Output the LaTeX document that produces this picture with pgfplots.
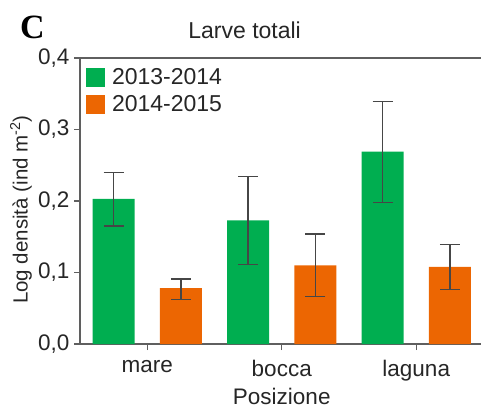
\documentclass[border=0pt]{standalone}
\usepackage{pgfplots}
\pgfplotsset{compat=1.18}
\usepackage{fontspec}
\setmainfont{Liberation Sans}
\newfontfamily\timesfont{Liberation Serif}
\definecolor{grn}{RGB}{0,174,80}
\definecolor{org}{RGB}{236,102,2}
\definecolor{axgray}{RGB}{95,95,95}
\definecolor{errgray}{RGB}{70,70,70}
\begin{document}
\begin{tikzpicture}
\useasboundingbox (0,0) rectangle (481pt,408pt);
\begin{axis}[
  at={(80pt,64pt)}, anchor=south west,
  scale only axis, width=403.5pt, height=286pt,
  ybar, bar width=42pt,
  xmin=-0.5, xmax=2.5, ymin=0, ymax=0.4,
  axis line style={axgray, line width=1.3pt},
  xtick={0,1,2}, xticklabels={mare,bocca,laguna},
  ytick={0,0.1,0.2,0.3,0.4},
  tick align=outside, tick pos=left,
  major tick length=6pt,
  tick style={axgray, line width=1.2pt},
  /pgf/number format/assume math mode=true,
  /pgf/number format/use comma, /pgf/number format/fixed,
  /pgf/number format/fixed zerofill, /pgf/number format/precision=1,
  tick label style={font=\fontsize{22.5}{24}\selectfont, text=black!85},
  yticklabel style={xshift=-1pt},
  xticklabel style={yshift=-7pt},
  xlabel={Posizione},
  xlabel style={font=\fontsize{22.5}{24}\selectfont, text=black!85, at={(rel axis cs:0.5,-0.182)}, anchor=center},
  ylabel={Log densità (ind m\textsuperscript{-2})},
  ylabel style={font=\fontsize{20.5}{24}\selectfont, text=black!85, at={(rel axis cs:-0.146,0.47)}, anchor=center, rotate=0},
  legend style={at={(0.012,0.975)}, anchor=north west, draw=none, fill=none,
    font=\fontsize{23}{24}\selectfont, text=black!85, row sep=6pt, inner sep=1pt},
  legend cell align=left,
  legend image code/.code={\fill[#1] (0pt,-9.5pt) rectangle (19pt,9.5pt); \path (24pt,0pt);},
  clip=false,
]
\addplot[bar shift=-33.7pt, fill=grn, draw=none,
  error bars/.cd, y dir=both, y explicit,
  error bar style={errgray, line width=1.3pt},
  error mark options={errgray, line width=1.3pt, mark size=10pt, rotate=90}]
  table[x=x, y=y, y error plus=ep, y error minus=em] {
  x y ep em
  0 0.203 0.037 0.038
  1 0.173 0.061 0.062
  2 0.269 0.070 0.071
  };
\addlegendentry{2013-2014}
\addplot[bar shift=33.7pt, fill=org, draw=none,
  error bars/.cd, y dir=both, y explicit,
  error bar style={errgray, line width=1.3pt},
  error mark options={errgray, line width=1.3pt, mark size=10pt, rotate=90}]
  table[x=x, y=y, y error plus=ep, y error minus=em] {
  x y ep em
  0 0.078 0.013 0.016
  1 0.110 0.044 0.044
  2 0.108 0.031 0.032
  };
\addlegendentry{2014-2015}
\node[font=\fontsize{23}{24}\selectfont, text=black!85] at (rel axis cs:0.408,1.098) {Larve totali};
\node[font=\timesfont\bfseries\fontsize{34}{36}\selectfont] at (rel axis cs:-0.118,1.108) {C};
\end{axis}
\end{tikzpicture}
\end{document}
